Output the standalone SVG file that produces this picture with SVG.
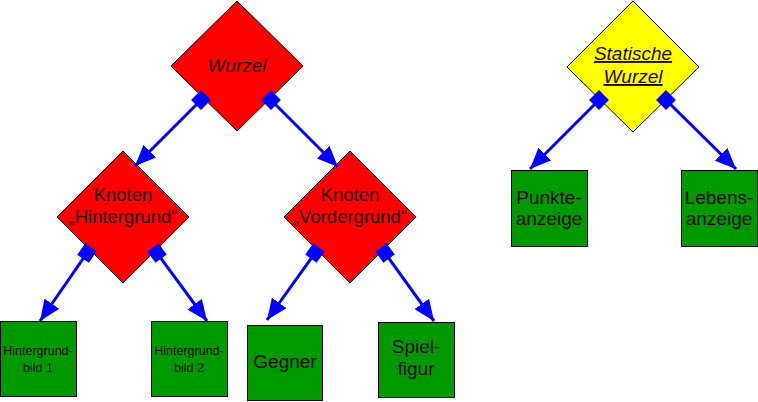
<svg xmlns="http://www.w3.org/2000/svg" width="758" height="402" viewBox="0 0 758 402">
<style>
.dia{fill:#ff0000;stroke:#000;stroke-width:1}
.ydia{fill:#ffff00;stroke:#000;stroke-width:1}
.box{fill:#009900;stroke:#000;stroke-width:1}
.t{font-family:"Liberation Sans",Arial,sans-serif;fill:#1a0a00;text-anchor:middle}
.c{stroke:#0000ff;stroke-width:3;fill:none;marker-start:url(#dm);marker-end:url(#ar)}
</style>
<defs>
<marker id="ar" markerUnits="userSpaceOnUse" markerWidth="22" markerHeight="18" viewBox="0 0 22 18" refX="21" refY="9" orient="auto">
<path d="M0,0 L21,9 L0,18 z" fill="#0000ff"/>
</marker>
<marker id="dm" markerUnits="userSpaceOnUse" markerWidth="16" markerHeight="16" viewBox="0 0 16 16" refX="8" refY="8" orient="auto">
<rect x="1" y="1" width="14" height="14" fill="#0000ff"/>
</marker>
</defs>
<rect width="758" height="402" fill="#fff"/>
<g id="wurzel"><polygon class="dia" points="237,1 303,66 237,131 171,66"/><text class="t" x="237" y="72" font-size="19" font-style="italic">Wurzel</text></g>
<g id="knoten-hintergrund"><polygon class="dia" points="123,151 189,217 123,283 57,217"/><text class="t" x="123" y="201" font-size="18.5">Knoten</text><text class="t" x="123" y="223" font-size="18.5">„Hintergrund“</text></g>
<g id="knoten-vordergrund"><polygon class="dia" points="350,151 416,217 350,283 284,217"/><text class="t" x="350" y="201" font-size="18.5">Knoten</text><text class="t" x="350" y="223" font-size="18.5">„Vordergrund“</text></g>
<g id="statische-wurzel"><polygon class="ydia" points="633,1 699,67 633,132 567,67"/><text class="t" x="633" y="60" font-size="19" font-style="italic" text-decoration="underline">Statische</text><text class="t" x="633" y="83" font-size="19" font-style="italic" text-decoration="underline">Wurzel</text></g>
<g id="hintergrundbild1"><rect class="box" x="0.5" y="321.5" width="76" height="75"/><text class="t" x="38" y="355" font-size="12.5">Hintergrund-</text><text class="t" x="38" y="372" font-size="12.5">bild 1</text></g>
<g id="hintergrundbild2"><rect class="box" x="151.5" y="321.5" width="76" height="75"/><text class="t" x="189" y="355" font-size="12.5">Hintergrund-</text><text class="t" x="189" y="372" font-size="12.5">bild 2</text></g>
<g id="gegner"><rect class="box" x="247.5" y="325.5" width="75" height="75"/><text class="t" x="285" y="368" font-size="19">Gegner</text></g>
<g id="spielfigur"><rect class="box" x="378.5" y="322.5" width="76" height="75"/><text class="t" x="416" y="353" font-size="19">Spiel-</text><text class="t" x="416" y="375" font-size="19">figur</text></g>
<g id="punkteanzeige"><rect class="box" x="511.5" y="170.5" width="76" height="76"/><text class="t" x="549" y="204" font-size="19">Punkte-</text><text class="t" x="549" y="225" font-size="19">anzeige</text></g>
<g id="lebensanzeige"><rect class="box" x="681.5" y="170.5" width="76" height="76"/><text class="t" x="719" y="204" font-size="19">Lebens-</text><text class="t" x="719" y="225" font-size="19">anzeige</text></g>
<g id="connectors">
<line class="c" x1="201" y1="100" x2="135" y2="166"/>
<line class="c" x1="271" y1="100" x2="338" y2="167"/>
<line class="c" x1="87" y1="253" x2="40" y2="321"/>
<line class="c" x1="157" y1="253" x2="207" y2="321"/>
<line class="c" x1="315" y1="253" x2="267" y2="320"/>
<line class="c" x1="385" y1="253" x2="434" y2="321"/>
<line class="c" x1="599" y1="100" x2="530" y2="169"/>
<line class="c" x1="666" y1="100" x2="736" y2="169"/>
</g>
</svg>
